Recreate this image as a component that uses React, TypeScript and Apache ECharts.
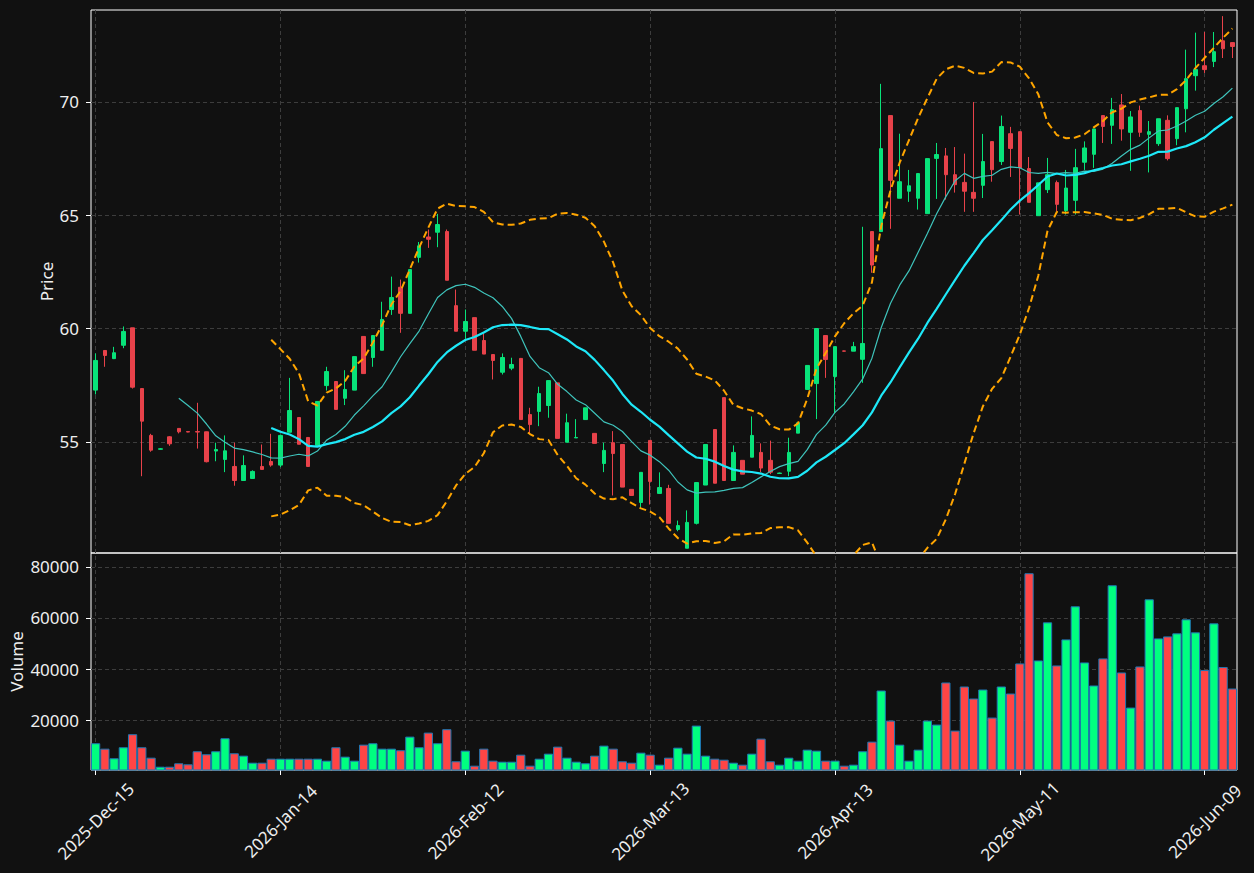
import React, { useEffect, useRef } from "react";
import * as echarts from "echarts";

// Trading days (NYSE calendar), 2025-Dec-15 .. 2026-Jun-12
const dates = [
  "2025-Dec-15", "2025-Dec-16", "2025-Dec-17", "2025-Dec-18", "2025-Dec-19",
  "2025-Dec-22", "2025-Dec-23", "2025-Dec-24", "2025-Dec-26",
  "2025-Dec-29", "2025-Dec-30", "2025-Dec-31", "2026-Jan-02",
  "2026-Jan-05", "2026-Jan-06", "2026-Jan-07", "2026-Jan-08", "2026-Jan-09",
  "2026-Jan-12", "2026-Jan-13", "2026-Jan-14", "2026-Jan-15", "2026-Jan-16",
  "2026-Jan-20", "2026-Jan-21", "2026-Jan-22", "2026-Jan-23",
  "2026-Jan-26", "2026-Jan-27", "2026-Jan-28", "2026-Jan-29", "2026-Jan-30",
  "2026-Feb-02", "2026-Feb-03", "2026-Feb-04", "2026-Feb-05", "2026-Feb-06",
  "2026-Feb-09", "2026-Feb-10", "2026-Feb-11", "2026-Feb-12", "2026-Feb-13",
  "2026-Feb-17", "2026-Feb-18", "2026-Feb-19", "2026-Feb-20",
  "2026-Feb-23", "2026-Feb-24", "2026-Feb-25", "2026-Feb-26", "2026-Feb-27",
  "2026-Mar-02", "2026-Mar-03", "2026-Mar-04", "2026-Mar-05", "2026-Mar-06",
  "2026-Mar-09", "2026-Mar-10", "2026-Mar-11", "2026-Mar-12", "2026-Mar-13",
  "2026-Mar-16", "2026-Mar-17", "2026-Mar-18", "2026-Mar-19", "2026-Mar-20",
  "2026-Mar-23", "2026-Mar-24", "2026-Mar-25", "2026-Mar-26", "2026-Mar-27",
  "2026-Mar-30", "2026-Mar-31", "2026-Apr-01", "2026-Apr-02",
  "2026-Apr-06", "2026-Apr-07", "2026-Apr-08", "2026-Apr-09", "2026-Apr-10",
  "2026-Apr-13", "2026-Apr-14", "2026-Apr-15", "2026-Apr-16", "2026-Apr-17",
  "2026-Apr-20", "2026-Apr-21", "2026-Apr-22", "2026-Apr-23", "2026-Apr-24",
  "2026-Apr-27", "2026-Apr-28", "2026-Apr-29", "2026-Apr-30", "2026-May-01",
  "2026-May-04", "2026-May-05", "2026-May-06", "2026-May-07", "2026-May-08",
  "2026-May-11", "2026-May-12", "2026-May-13", "2026-May-14", "2026-May-15",
  "2026-May-18", "2026-May-19", "2026-May-20", "2026-May-21", "2026-May-22",
  "2026-May-26", "2026-May-27", "2026-May-28", "2026-May-29",
  "2026-Jun-01", "2026-Jun-02", "2026-Jun-03", "2026-Jun-04", "2026-Jun-05",
  "2026-Jun-08", "2026-Jun-09", "2026-Jun-10", "2026-Jun-11", "2026-Jun-12",
];

const opens = [
  57.28, 59.03, 58.67, 59.26, 60.03, 57.35, 55.28, 54.67, 55.22, 55.59,
  55.45, 55.45, 55.44, 54.59, 54.22, 53.91, 53.29, 53.38, 53.91, 54.13,
  53.97, 55.42, 56.07, 55.19, 54.84, 57.48, 57.66, 56.92, 57.28, 59.65,
  58.72, 59.04, 60.84, 61.82, 60.67, 63.14, 64.04, 64.25, 64.28, 61.01,
  59.88, 60.48, 59.47, 58.85, 58.07, 58.25, 58.68, 56.2, 56.34, 56.6,
  57.6, 54.98, 55.17, 55.98, 55.37, 54.04, 54.96, 54.88, 52.9, 52.32,
  55.06, 52.72, 52.94, 51.13, 50.3, 51.4, 53.09, 55.54, 56.95, 53.29,
  54.18, 54.32, 54.53, 54.18, 53.6, 53.7, 55.38, 57.31, 57.57, 59.69,
  57.88, 59.01, 59.0, 58.64, 64.28, 64.28, 69.4, 65.75, 66.06, 65.75,
  65.07, 67.51, 67.62, 66.79, 66.45, 66.01, 66.32, 68.25, 67.37, 68.6,
  68.69, 67.06, 64.98, 66.13, 66.44, 65.2, 65.66, 67.34, 67.69, 69.4,
  68.97, 69.87, 68.66, 69.62, 68.57, 68.16, 69.19, 68.38, 69.7, 71.16,
  71.6, 71.79, 72.7, 72.62,
];

const closes = [
  58.59, 58.81, 58.93, 59.87, 57.41, 55.91, 54.63, 54.69, 54.91, 55.44,
  55.43, 55.43, 54.12, 54.66, 54.6, 53.29, 53.95, 53.69, 53.78, 53.97,
  55.28, 56.38, 54.89, 53.91, 56.78, 58.1, 56.43, 57.31, 58.76, 58.01,
  59.69, 60.4, 61.37, 60.67, 62.6, 63.65, 63.94, 64.59, 62.13, 59.88,
  60.31, 59.04, 58.87, 58.59, 58.72, 58.41, 55.98, 55.76, 57.13, 57.7,
  55.15, 55.84, 55.19, 56.5, 54.93, 54.62, 54.48, 53.0, 52.63, 53.65,
  53.25, 52.98, 51.4, 51.3, 51.44, 53.2, 54.88, 53.17, 53.29, 54.53,
  53.57, 55.28, 53.84, 53.66, 53.62, 54.53, 55.84, 58.37, 60.0, 58.63,
  59.2, 59.0, 59.2, 59.34, 62.8, 67.94, 66.54, 66.48, 66.3, 66.84,
  67.5, 67.68, 66.79, 66.35, 66.06, 65.75, 67.37, 67.01, 68.92, 67.95,
  67.09, 65.57, 66.43, 66.79, 65.48, 66.2, 67.1, 67.97, 68.81, 68.92,
  69.66, 68.81, 69.34, 68.66, 68.69, 69.26, 67.5, 69.75, 71.03, 71.43,
  71.43, 72.22, 72.35, 72.45,
];

const lows = [
  57.09, 58.31, 58.65, 59.13, 57.35, 53.48, 54.56, 54.66, 54.82, 55.37,
  55.42, 54.7, 54.09, 54.14, 53.66, 53.06, 53.29, 53.38, 53.78, 53.9,
  53.88, 55.42, 54.89, 53.91, 54.84, 57.26, 56.43, 56.62, 57.28, 58.01,
  58.31, 59.04, 60.6, 59.81, 60.67, 62.91, 63.56, 63.59, 62.13, 59.88,
  59.54, 59.04, 58.87, 57.75, 57.97, 58.16, 55.98, 55.37, 55.69, 56.06,
  55.15, 54.98, 55.17, 55.98, 54.93, 53.66, 52.63, 53.0, 52.63, 52.09,
  52.23, 52.7, 51.4, 51.05, 50.3, 51.35, 53.09, 53.17, 53.29, 53.29,
  53.57, 54.32, 53.66, 53.57, 53.58, 53.48, 55.38, 57.31, 56.0, 57.82,
  56.28, 58.99, 59.0, 57.6, 62.46, 64.28, 64.4, 65.75, 65.59, 65.25,
  65.07, 65.72, 65.69, 66.0, 65.15, 65.15, 65.76, 66.48, 67.22, 66.69,
  65.03, 65.57, 64.98, 65.98, 65.17, 65.03, 65.03, 67.0, 67.09, 68.19,
  68.15, 68.29, 66.96, 68.46, 66.89, 68.06, 67.42, 68.09, 68.66, 70.5,
  71.28, 71.54, 71.94, 71.94,
];

const highs = [
  58.9, 59.05, 59.19, 60.09, 60.03, 57.37, 55.35, 54.72, 55.25, 55.6,
  55.46, 56.72, 55.45, 54.96, 55.28, 54.96, 54.4, 53.74, 54.88, 55.35,
  55.32, 57.82, 56.07, 55.21, 56.8, 58.31, 57.66, 58.16, 58.76, 59.65,
  59.69, 61.18, 62.29, 62.16, 62.6, 63.82, 64.37, 65.06, 64.37, 61.72,
  60.84, 60.48, 59.78, 58.85, 58.9, 58.71, 58.7, 56.5, 57.43, 57.7,
  57.6, 56.24, 56.0, 56.5, 55.37, 54.96, 55.47, 54.88, 52.9, 53.65,
  55.06, 53.65, 53.1, 51.52, 51.97, 53.2, 54.88, 55.54, 56.95, 54.84,
  54.18, 56.12, 54.93, 55.05, 53.64, 55.18, 55.84, 58.37, 60.0, 59.69,
  59.2, 59.02, 59.41, 64.49, 64.28, 70.8, 69.4, 68.6, 67.0, 66.84,
  67.5, 68.19, 67.97, 68.01, 67.72, 70.0, 68.59, 68.25, 69.4, 68.9,
  68.69, 67.57, 66.43, 67.53, 66.53, 67.0, 67.93, 68.26, 68.81, 69.4,
  70.18, 70.35, 69.6, 69.84, 69.16, 69.26, 69.41, 69.75, 72.31, 73.06,
  73.09, 73.09, 73.79, 72.62,
];

const volumes = [
  10980, 8860, 5100, 9410, 14510, 9410, 5330, 1800, 1800, 3140,
  2740, 7840, 6670, 7840, 12940, 7060, 6120, 3370, 3370, 4940,
  4940, 4940, 4940, 4940, 4940, 4160, 9410, 5730, 4160, 10430,
  10980, 8860, 8860, 8240, 13570, 9410, 15140, 10980, 16470, 3920,
  8080, 2200, 8860, 4160, 3760, 3760, 6510, 2200, 4940, 6900,
  9650, 5330, 3760, 3140, 6120, 10040, 8860, 3920, 3370, 7290,
  6510, 2590, 5330, 9250, 6900, 17880, 6120, 4940, 4550, 3370,
  2590, 6900, 12780, 3920, 2590, 5330, 4160, 8470, 8080, 4160,
  4160, 2200, 2590, 7840, 11610, 31610, 19840, 10430, 4160, 8470,
  19840, 18280, 34750, 15920, 33180, 28470, 32000, 21020, 33180, 30430,
  42200, 77490, 43370, 58270, 41410, 51610, 64550, 42590, 33570, 44160,
  72780, 38670, 24940, 41020, 67290, 52000, 52780, 53960, 59450, 54350,
  39610, 57880, 40780, 32390,
];

const priceTicks = [55, 60, 65, 70];
const volumeTicks = [20000, 40000, 60000, 80000];
const dateLabelStep = 20;
const maShort = 10;
const maLong = 20;
const bandWidthStd = 2;

const FONT = "Noto Sans";
const TEXT = "#eeeeee";
const BG = "#111111";
const GRIDLINE = "#3d3d3d";
const CANDLE_UP = "#08e37a";
const CANDLE_DOWN = "#e8424a";
const VOL_UP = "#00ff80";
const VOL_DOWN = "#ff4545";

function rollingMean(src: number[], n: number): (number | null)[] {
  return src.map((_, i) => {
    if (i < n - 1) return null;
    let s = 0;
    for (let k = i - n + 1; k <= i; k++) s += src[k];
    return s / n;
  });
}

function rollingStd(src: number[], n: number): (number | null)[] {
  const mean = rollingMean(src, n);
  return src.map((_, i) => {
    const m = mean[i];
    if (m === null) return null;
    let s = 0;
    for (let k = i - n + 1; k <= i; k++) s += (src[k] - m) * (src[k] - m);
    return Math.sqrt(s / n);
  });
}

function buildOption() {
  const ma10 = rollingMean(closes, maShort);
  const ma20 = rollingMean(closes, maLong);
  const sd20 = rollingStd(closes, maLong);
  const bbUpper = ma20.map((m, i) => (m === null ? null : m + bandWidthStd * (sd20[i] as number)));
  const bbLower = ma20.map((m, i) => (m === null ? null : m - bandWidthStd * (sd20[i] as number)));

  const candles = dates.map((_, i) => [opens[i], closes[i], lows[i], highs[i]]);
  const volBars = volumes.map((v, i) => ({
    value: v,
    itemStyle: { color: closes[i] >= opens[i] ? VOL_UP : VOL_DOWN },
  }));
  const labelIdx = dates.map((_, i) => i).filter((i) => i % dateLabelStep === 0);
  const showEvery = (i: number) => i % dateLabelStep === 0;

  const gridLineStyle = { color: GRIDLINE, type: [4, 3] as number[], width: 1 };

  const textStyle = { color: TEXT, fontSize: 17, fontFamily: FONT };

  return {
    animation: false,
    backgroundColor: BG,
    textStyle: { fontFamily: FONT },
    grid: [
      { left: 91, top: 10, width: 1146, height: 543, show: true, borderColor: "#ffffff", borderWidth: 1, backgroundColor: "transparent", containLabel: false, outerBoundsMode: "none" },
      { left: 91, top: 553, width: 1146, height: 217, show: true, borderColor: "#ffffff", borderWidth: 1, backgroundColor: "transparent", containLabel: false, outerBoundsMode: "none" },
    ],
    xAxis: [
      {
        type: "category",
        gridIndex: 0,
        data: dates,
        boundaryGap: true,
        axisLine: { show: false },
        axisTick: { show: false },
        axisLabel: { show: false },
        splitLine: { show: false },
      },
      {
        type: "category",
        gridIndex: 1,
        data: dates,
        boundaryGap: true,
        axisLine: { show: false },
        axisTick: {
          show: true,
          alignWithLabel: true,
          interval: showEvery,
          length: 5,
          lineStyle: { color: "#ffffff", width: 1 },
        },
        axisLabel: {
          interval: showEvery,
          rotate: 45,
          align: "center",
          verticalAlign: "middle",
          margin: 51,
          ...textStyle,
        },
        splitLine: { show: false },
      },
    ],
    yAxis: [
      {
        type: "value",
        gridIndex: 0,
        min: 50.09,
        max: 74.06,
        axisLine: { show: false },
        axisTick: { show: true, length: 5, lineStyle: { color: "#ffffff" }, customValues: priceTicks },
        axisLabel: { customValues: priceTicks, margin: 12, formatter: (v: number) => String(v), ...textStyle },
        splitLine: { show: false },
        name: "Price",
        nameLocation: "middle",
        nameGap: 36,
        nameRotate: 90,
        nameMoveOverlap: false,
        nameTextStyle: textStyle,
      },
      {
        type: "value",
        gridIndex: 1,
        min: 510,
        max: 85400,
        axisLine: { show: false },
        axisTick: { show: true, length: 5, lineStyle: { color: "#ffffff" }, customValues: volumeTicks },
        axisLabel: { customValues: volumeTicks, margin: 12, formatter: (v: number) => String(v), ...textStyle },
        splitLine: { show: false },
        name: "Volume",
        nameLocation: "middle",
        nameGap: 66,
        nameRotate: 90,
        nameMoveOverlap: false,
        nameTextStyle: textStyle,
      },
    ],
    series: [
      {
        type: "candlestick",
        name: "OHLC",
        xAxisIndex: 0,
        yAxisIndex: 0,
        data: candles,
        barWidth: 4,
        z: 3,
        itemStyle: {
          color: CANDLE_UP,
          color0: CANDLE_DOWN,
          borderColor: CANDLE_UP,
          borderColor0: CANDLE_DOWN,
          borderWidth: 1,
        },
        markLine: {
          silent: true,
          symbol: ["none", "none"],
          z: 1,
          label: { show: false },
          lineStyle: gridLineStyle,
          data: [
            ...priceTicks.map((v) => ({ yAxis: v })),
            ...labelIdx.map((i) => ({ xAxis: dates[i] })),
          ],
        },
      },
      {
        type: "line",
        name: "MA10",
        xAxisIndex: 0,
        yAxisIndex: 0,
        data: ma10,
        showSymbol: false,
        z: 4,
        lineStyle: { color: "#3fc4bc", width: 1.2 },
      },
      {
        type: "line",
        name: "MA20",
        xAxisIndex: 0,
        yAxisIndex: 0,
        data: ma20,
        showSymbol: false,
        z: 4,
        lineStyle: { color: "#1ee8f8", width: 2.2 },
      },
      {
        type: "line",
        name: "BB Upper",
        xAxisIndex: 0,
        yAxisIndex: 0,
        data: bbUpper,
        showSymbol: false,
        z: 4,
        lineStyle: { color: "#ffa500", width: 2, type: [7, 4] },
      },
      {
        type: "line",
        name: "BB Lower",
        xAxisIndex: 0,
        yAxisIndex: 0,
        data: bbLower,
        showSymbol: false,
        z: 4,
        lineStyle: { color: "#ffa500", width: 2, type: [7, 4] },
      },
      {
        type: "bar",
        name: "Volume",
        xAxisIndex: 1,
        yAxisIndex: 1,
        data: volBars,
        barCategoryGap: "0%",
        z: 3,
        itemStyle: { borderColor: "#1f77b4", borderWidth: 1 },
        markLine: {
          silent: true,
          symbol: ["none", "none"],
          z: 1,
          label: { show: false },
          lineStyle: gridLineStyle,
          data: [
            ...volumeTicks.map((v) => ({ yAxis: v })),
            ...labelIdx.map((i) => ({ xAxis: dates[i] })),
          ],
        },
      },
    ],
  };
}

export default function App() {
  const ref = useRef<HTMLDivElement>(null);
  useEffect(() => {
    if (!ref.current) return;
    const chart = echarts.init(ref.current, null, { renderer: "svg" });
    chart.setOption(buildOption() as any);
    return () => chart.dispose();
  }, []);
  return (
    <div
      ref={ref}
      style={{ position: "fixed", left: 0, top: 0, width: 1254, height: 873, background: BG }}
    />
  );
}
